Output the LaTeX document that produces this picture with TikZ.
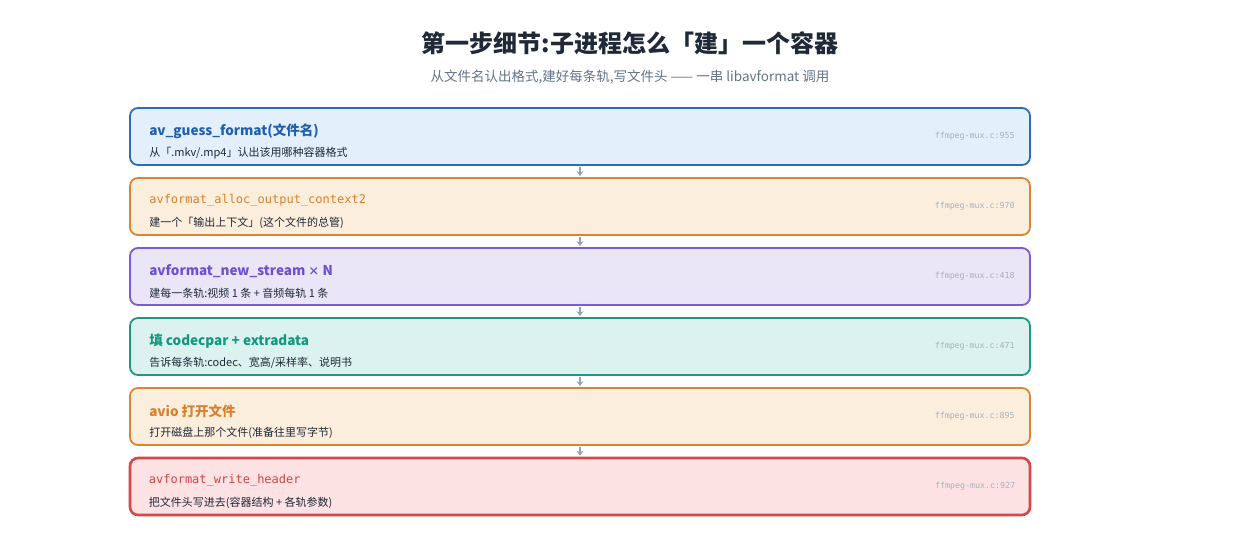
\documentclass[tikz,border=0pt]{standalone}
\usepackage{fontspec}
\setmainfont{Noto Sans CJK SC}
\newfontfamily\monof{DejaVu Sans Mono}
\usetikzlibrary{arrows.meta}
\definecolor{c1b}{HTML}{2A6DB8}\definecolor{c1f}{HTML}{E3EFFB}\definecolor{c1t}{HTML}{1F5FAE}
\definecolor{c2b}{HTML}{DD8430}\definecolor{c2f}{HTML}{FBEEDD}\definecolor{c2t}{HTML}{D9802C}
\definecolor{c3b}{HTML}{7B5BD6}\definecolor{c3f}{HTML}{EBE5F8}\definecolor{c3t}{HTML}{6E4FD0}
\definecolor{c4b}{HTML}{1A9A85}\definecolor{c4f}{HTML}{DCF2EE}\definecolor{c4t}{HTML}{14977F}
\definecolor{c6b}{HTML}{D64848}\definecolor{c6f}{HTML}{FCE2E2}\definecolor{c6t}{HTML}{D04444}
\definecolor{titlec}{HTML}{1F2937}
\definecolor{subc}{HTML}{64748B}
\definecolor{descc}{HTML}{1F2937}
\definecolor{refc}{HTML}{A8B0BC}
\definecolor{arrc}{HTML}{94A3B8}
\tikzset{
  box/.style={rounded corners=8pt, minimum width=900pt, minimum height=57pt, line width=1.8pt, inner sep=0pt},
  ttl/.style={anchor=west, inner sep=0pt, font=\fontsize{13.5}{16}\selectfont\bfseries},
  mttl/.style={anchor=west, inner sep=0pt, font=\fontsize{12}{14}\selectfont\monof},
  desc/.style={anchor=west, inner sep=0pt, text=descc, font=\fontsize{11}{13}\selectfont},
  fref/.style={anchor=east, inner sep=0pt, text=refc, font=\fontsize{8.3}{10}\selectfont\monof},
  arr/.style={draw=arrc, line width=2.2pt, -{Stealth[length=5pt,width=7pt]}, shorten <=1pt, shorten >=1pt}
}
\begin{document}
\begin{tikzpicture}[x=1pt,y=-1pt]
\useasboundingbox (0,0) rectangle (1260,540);
\fill[white] (0,0) rectangle (1260,540);
\node[text=titlec, font=\fontsize{24}{28}\selectfont\bfseries] (title) at (630,43) {第一步细节:子进程怎么「建」一个容器};
\node[text=subc, font=\fontsize{13.5}{16}\selectfont] (sub) at (630,77) {从文件名认出格式,建好每条轨,写文件头 —— 一串 libavformat 调用};

\node[box, draw=c1b, fill=c1f] (b1) at (580,136.5) {};
\node[box, draw=c2b, fill=c2f] (b2) at (580,206.5) {};
\node[box, draw=c3b, fill=c3f] (b3) at (580,276.5) {};
\node[box, draw=c4b, fill=c4f] (b4) at (580,346.5) {};
\node[box, draw=c2b, fill=c2f] (b5) at (580,416.5) {};
\node[box, draw=c6b, fill=c6f, line width=2.6pt] (b6) at (580,486.5) {};

\node[ttl, text=c1t] (t1) at ([xshift=20pt,yshift=5pt]b1.west) {av\_guess\_format(文件名)};
\node[desc] (d1) at ([xshift=20pt,yshift=-16.5pt]b1.west) {从「.mkv/.mp4」认出该用哪种容器格式};
\node[fref] (r1) at ([xshift=-16pt]b1.east) {ffmpeg-mux.c:955};

\node[mttl, text=c2t] (t2) at ([xshift=20pt,yshift=6.5pt]b2.west) {avformat\_alloc\_output\_context2};
\node[desc] (d2) at ([xshift=20pt,yshift=-16pt]b2.west) {建一个「输出上下文」(这个文件的总管)};
\node[fref] (r2) at ([xshift=-16pt]b2.east) {ffmpeg-mux.c:970};

\node[ttl, text=c3t] (t3) at ([xshift=20pt,yshift=5pt]b3.west) {avformat\_new\_stream {\fontsize{11}{13}\selectfont×} N};
\node[desc] (d3) at ([xshift=20pt,yshift=-16.5pt]b3.west) {建每一条轨:视频 1 条 + 音频每轨 1 条};
\node[fref] (r3) at ([xshift=-16pt]b3.east) {ffmpeg-mux.c:418};

\node[ttl, text=c4t] (t4) at ([xshift=20pt,yshift=5pt]b4.west) {填 codecpar + extradata};
\node[desc] (d4) at ([xshift=20pt,yshift=-16.5pt]b4.west) {告诉每条轨:codec、宽高/采样率、说明书};
\node[fref] (r4) at ([xshift=-16pt]b4.east) {ffmpeg-mux.c:471};

\node[ttl, text=c2t] (t5) at ([xshift=20pt,yshift=5pt]b5.west) {avio 打开文件};
\node[desc] (d5) at ([xshift=20pt,yshift=-16.5pt]b5.west) {打开磁盘上那个文件(准备往里写字节)};
\node[fref] (r5) at ([xshift=-16pt]b5.east) {ffmpeg-mux.c:895};

\node[mttl, text=c6t] (t6) at ([xshift=20pt,yshift=6.5pt]b6.west) {avformat\_write\_header};
\node[desc] (d6) at ([xshift=20pt,yshift=-16pt]b6.west) {把文件头写进去(容器结构 + 各轨参数)};
\node[fref] (r6) at ([xshift=-16pt]b6.east) {ffmpeg-mux.c:927};

\draw[arr] (b1.south) -- (b2.north);
\draw[arr] (b2.south) -- (b3.north);
\draw[arr] (b3.south) -- (b4.north);
\draw[arr] (b4.south) -- (b5.north);
\draw[arr] (b5.south) -- (b6.north);
\end{tikzpicture}
\end{document}
